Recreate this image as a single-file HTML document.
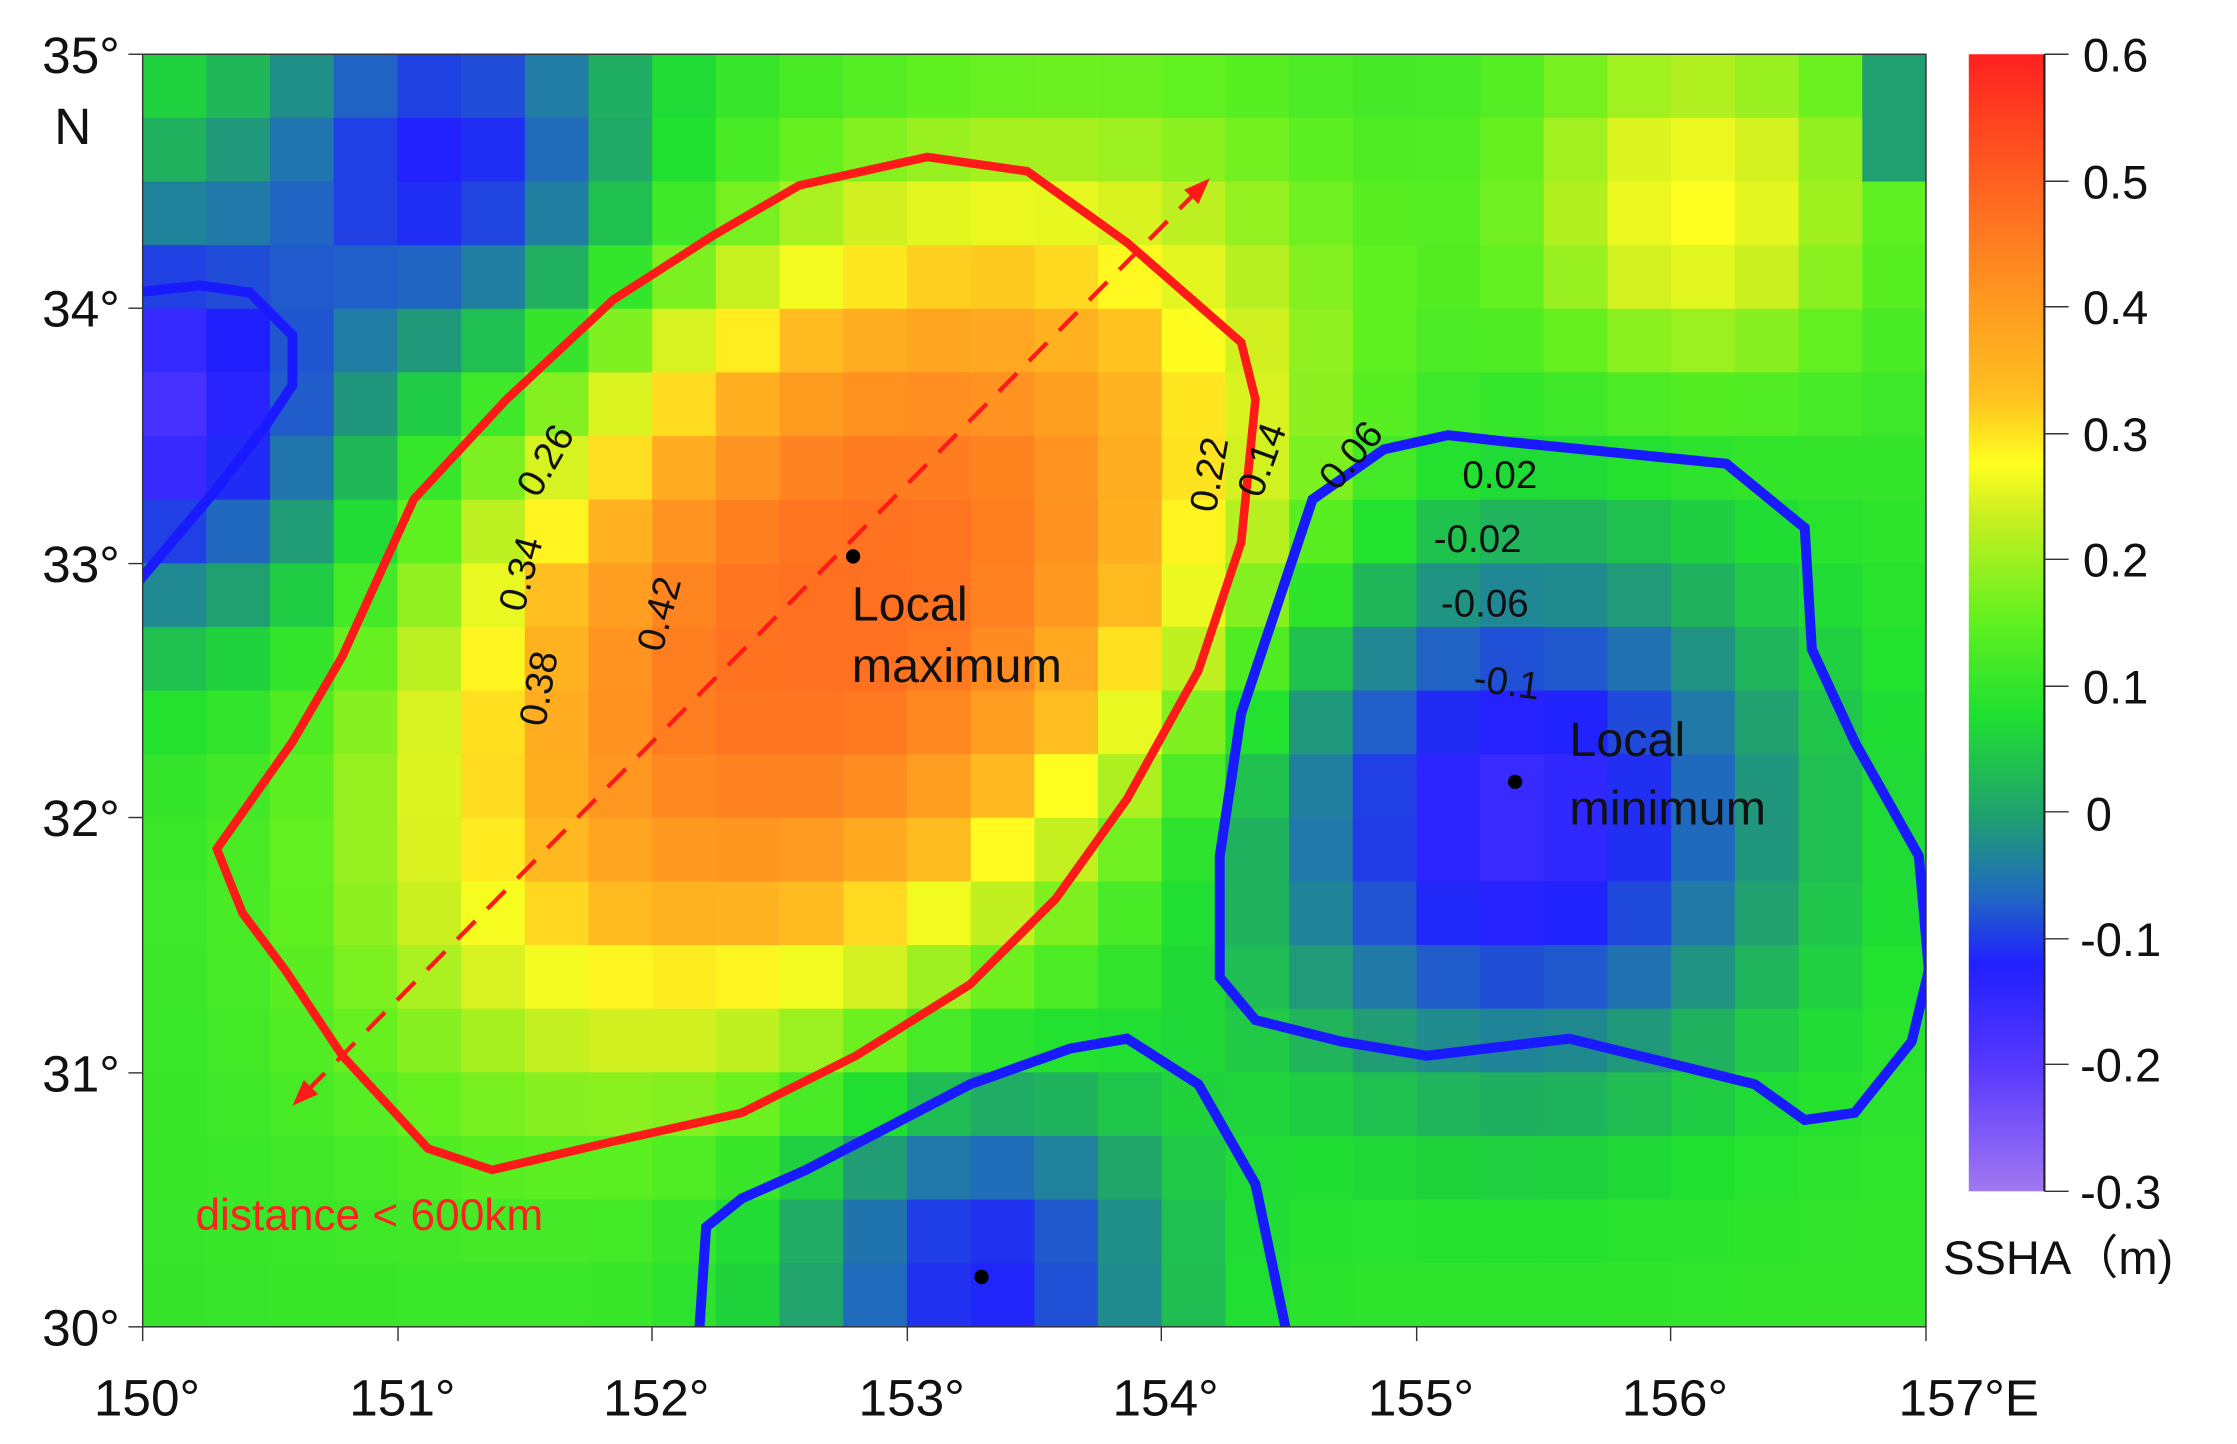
<!DOCTYPE html>
<html><head><meta charset="utf-8">
<style>
html,body{margin:0;padding:0;background:#fff;}
svg{display:block;}
text{font-family:"Liberation Sans",sans-serif;}
</style></head>
<body>
<svg id="s" width="2237" height="1444" viewBox="0 0 1568 1012.1" xmlns="http://www.w3.org/2000/svg">
<defs>
<linearGradient id="cb" x1="0" y1="1" x2="0" y2="0">
<stop offset="0" stop-color="#a078f0"/>
<stop offset="0.11" stop-color="#5838ff"/>
<stop offset="0.2" stop-color="#2020ff"/>
<stop offset="0.26" stop-color="#2068c0"/>
<stop offset="0.33" stop-color="#20a070"/>
<stop offset="0.42" stop-color="#20e030"/>
<stop offset="0.5" stop-color="#60f020"/>
<stop offset="0.6" stop-color="#d0f020"/>
<stop offset="0.64" stop-color="#ffff20"/>
<stop offset="0.7" stop-color="#ffc020"/>
<stop offset="0.8" stop-color="#ff9020"/>
<stop offset="0.9" stop-color="#ff5a20"/>
<stop offset="1" stop-color="#ff2020"/>
</linearGradient>
<clipPath id="pc"><rect x="100" y="38" width="1250" height="892"/></clipPath>
</defs>
<g id="grid" clip-path="url(#pc)"></g>
<g clip-path="url(#pc)" fill="none">
<path d="M152,595 L205,520 L240,460 L290,350 L355,280 L430,210 L500,165 L560,130 L650,110 L720,120 L790,170 L870,240 L880,280 L870,380 L840,470 L790,560 L740,630 L680,690 L600,740 L520,780 L430,800 L345,820 L300,805 L240,740 L200,680 L170,640 Z" stroke="#ff1a1a" stroke-width="6"/>
<path d="M880,715 L855,685 L855,600 L870,500 L920,350 L970,315 L1015,305 L1060,310 L1210,325 L1265,370 L1270,455 L1300,520 L1345,600 L1352,680 L1340,730 L1300,780 L1265,785 L1230,760 L1100,728 L1000,740 L940,730 Z" stroke="#1a1aff" stroke-width="7"/>
<path d="M490,935 L495,860 L520,840 L565,820 L680,760 L750,735 L790,728 L840,760 L880,830 L902,935" stroke="#1a1aff" stroke-width="7"/>
<path d="M95,410 L150,345 L185,300 L205,270 L205,235 L175,205 L140,200 L95,205" stroke="#1a1aff" stroke-width="7"/>
<line x1="215" y1="765" x2="838" y2="135" stroke="#ff1a1a" stroke-width="3" stroke-dasharray="18,12"/>
</g>
<polygon points="848,125 830,133 840,143" fill="#ff1a1a"/>
<polygon points="205,775 213,757 223,767" fill="#ff1a1a"/>
<circle cx="598" cy="390" r="5"/><circle cx="1062" cy="548" r="5"/><circle cx="688" cy="895" r="5"/>
<g font-size="34" fill="#111">
<text x="597" y="435">Local</text><text x="597" y="478">maximum</text>
<text x="1100" y="530">Local</text><text x="1100" y="578">minimum</text>
</g>
<text x="137" y="862" font-size="31" fill="#ff2020">distance &lt; 600km</text>
<g font-size="27" fill="#111">
<text x="1025" y="342">0.02</text><text x="1005" y="387">-0.02</text><text x="1010" y="432">-0.06</text>
<text x="1032" y="484" transform="rotate(8 1032 484)">-0.1</text>
<text transform="translate(382,510) rotate(-80)">0.38</text>
<text transform="translate(464,458) rotate(-75)">0.42</text>
<text transform="translate(367,430) rotate(-75)">0.34</text>
<text transform="translate(377,350) rotate(-60)">0.26</text>
<text transform="translate(852,360) rotate(-80)">0.22</text>
<text transform="translate(884,350) rotate(-70)">0.14</text>
<text transform="translate(937,345) rotate(-50)">0.06</text>
</g>
<rect x="100" y="38" width="1250" height="892" fill="none" stroke="#333" stroke-width="1"/>
<g stroke="#333" stroke-width="1">
<line x1="90" y1="38" x2="100" y2="38"/><line x1="90" y1="216" x2="100" y2="216"/><line x1="90" y1="395" x2="100" y2="395"/><line x1="90" y1="573" x2="100" y2="573"/><line x1="90" y1="752" x2="100" y2="752"/><line x1="90" y1="930" x2="100" y2="930"/>
<line x1="100" y1="930" x2="100" y2="940"/><line x1="279" y1="930" x2="279" y2="940"/><line x1="457" y1="930" x2="457" y2="940"/><line x1="636" y1="930" x2="636" y2="940"/><line x1="814" y1="930" x2="814" y2="940"/><line x1="993" y1="930" x2="993" y2="940"/><line x1="1171" y1="930" x2="1171" y2="940"/><line x1="1350" y1="930" x2="1350" y2="940"/>
</g>
<g font-size="36" fill="#111" text-anchor="end">
<text x="84" y="51">35°</text><text x="64" y="101">N</text>
<text x="84" y="229">34°</text><text x="84" y="408">33°</text><text x="84" y="586">32°</text><text x="84" y="765">31°</text><text x="84" y="943">30°</text>
</g>
<g font-size="36" fill="#111" text-anchor="middle">
<text x="103" y="992">150°</text><text x="282" y="992">151°</text><text x="460" y="992">152°</text><text x="639" y="992">153°</text><text x="817" y="992">154°</text><text x="996" y="992">155°</text><text x="1174" y="992">156°</text><text x="1380" y="992">157°E</text>
</g>
<rect x="1380" y="38" width="53" height="797" fill="url(#cb)"/>
<line x1="1433" y1="38" x2="1433" y2="835" stroke="#222" stroke-width="1.5"/>
<g stroke="#333" stroke-width="1">
<line x1="1433" y1="38" x2="1450" y2="38"/><line x1="1433" y1="127" x2="1450" y2="127"/><line x1="1433" y1="215" x2="1450" y2="215"/><line x1="1433" y1="304" x2="1450" y2="304"/><line x1="1433" y1="392" x2="1450" y2="392"/><line x1="1433" y1="481" x2="1450" y2="481"/><line x1="1433" y1="569" x2="1450" y2="569"/><line x1="1433" y1="658" x2="1450" y2="658"/><line x1="1433" y1="746" x2="1450" y2="746"/><line x1="1433" y1="835" x2="1450" y2="835"/>
</g>
<g font-size="33" fill="#111">
<text x="1460" y="50">0.6</text><text x="1460" y="139">0.5</text><text x="1460" y="227">0.4</text><text x="1460" y="316">0.3</text><text x="1460" y="404">0.2</text><text x="1460" y="493">0.1</text><text x="1462" y="582">0</text><text x="1458" y="670">-0.1</text><text x="1458" y="758">-0.2</text><text x="1458" y="847">-0.3</text>
</g>
<text x="1362" y="893" font-size="33" fill="#111">SSHA（m)</text>
</svg>
<script>
(function(){
var stops=[[-0.3,[160,120,240]],[-0.2,[88,56,255]],[-0.12,[32,32,255]],[-0.06,[32,104,192]],[0,[32,160,112]],[0.06,[32,224,48]],[0.12,[96,240,32]],[0.2,[208,240,32]],[0.25,[255,255,32]],[0.3,[255,192,32]],[0.4,[255,144,32]],[0.5,[255,90,32]],[0.6,[255,32,32]]];
function col(v){if(v<=stops[0][0])return stops[0][1];for(var i=1;i<stops.length;i++){if(v<=stops[i][0]){var a=stops[i-1],b=stops[i],t=(v-a[0])/(b[0]-a[0]);return [0,1,2].map(function(k){return Math.round(a[1][k]+t*(b[1][k]-a[1][k]))});}}return stops[stops.length-1][1];}
function g(x,y,cx,cy,s){var dx=x-cx,dy=y-cy;return Math.exp(-(dx*dx+dy*dy)/(2*s*s));}
function f(lon,lat){
var dx=lon-152.75,dy=lat-32.8;var u=(dx+dy)/1.414,v=(dx-dy)/1.414;
var m=0.38*Math.exp(-Math.pow((u*u)/(1.5*1.5)+(v*v)/(0.95*0.95),1.4)/2);
var r=0.08+m;
r-=0.24*g(lon,lat,155.4,32.0,0.7);
r-=0.2*g(lon,lat,153.3,30.2,0.5);
r-=0.26*g(lon,lat,150.0,33.6,0.55);
r-=0.2*g(lon,lat,151.2,34.6,0.5);
r+=0.17*g(lon,lat,156.1,34.4,0.45);
return r;}
var G=document.getElementById('grid'),ns='http://www.w3.org/2000/svg';
var w=1250/28,h=892/20;
for(var i=0;i<28;i++)for(var j=0;j<20;j++){
var lon=150+0.25*(i+0.5),lat=35-0.25*(j+0.5);
var v=f(lon,lat);if(i==27&&j<2)v=0.0;
var c=col(v);var r=document.createElementNS(ns,'rect');
r.setAttribute('x',100+i*w);r.setAttribute('y',38+j*h);r.setAttribute('width',w+0.6);r.setAttribute('height',h+0.6);
r.setAttribute('fill','rgb('+c.join(',')+')');G.appendChild(r);}
})();
</script>
</body></html>
